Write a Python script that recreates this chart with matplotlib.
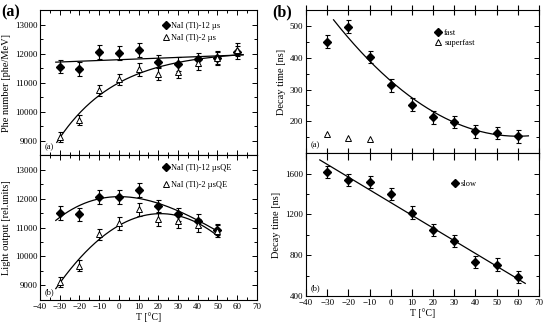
import numpy as np
import matplotlib
matplotlib.use("Agg")
import matplotlib.pyplot as plt
from matplotlib.ticker import MultipleLocator

plt.rcParams['font.family'] = ['Liberation Serif', 'DejaVu Serif']

# temperatures [C]
T = [-30, -20, -10, 0, 10, 20, 30, 40, 50, 60]
T_qe = [-30, -20, -10, 0, 10, 20, 30, 40, 50]

# (a) top: photoelectron number [phe/MeV]
phe_12 = [11550, 11470, 12050, 12015, 12130, 11720, 11640, 11800, 11860, 12040]
phe_12_err = [230, 230, 240, 240, 240, 230, 230, 230, 230, 230]
phe_2 = [9120, 9700, 10740, 11110, 11460, 11310, 11380, 11660, 11840, 12130]
phe_2_err = [170, 180, 190, 200, 220, 220, 220, 220, 220, 220]

# (a) bottom: light output [rel. units]
lo_12 = [11500, 11450, 12060, 12060, 12290, 11730, 11450, 11230, 10930]
lo_12_err = [230, 230, 240, 240, 250, 230, 230, 220, 200]
lo_2 = [9120, 9680, 10760, 11140, 11630, 11290, 11210, 11080, 10870]
lo_2_err = [170, 190, 200, 210, 220, 230, 230, 220, 200]

# (b) top: decay time fast / superfast [ns]
fast = [450, 498, 402, 313, 252, 213, 198, 168, 163, 153]
fast_err = [20, 20, 20, 20, 20, 20, 20, 20, 20, 20]
T_sf = [-30, -20, -10]
superfast = [161, 147, 144]

# (b) bottom: decay time slow [ns]
slow = [1617, 1534, 1517, 1398, 1217, 1045, 936, 730, 708, 585]
slow_err = [60, 60, 60, 60, 60, 60, 60, 60, 60, 60]

# fit of NaI(Tl)-2us phe number: A - B*exp(-(T - T0)/tau)
exp_A, exp_B, exp_T0, exp_tau = 12100, 3010, -30, 30.0
# fit of fast decay time: y0 + a*(T - Tv)^2
fast_y0, fast_a, fast_Tv = 153, 0.0484, 60

fig = plt.figure(figsize=(5.45, 3.25), dpi=100)
ax1 = fig.add_axes([0.0734, 0.523, 0.398, 0.446])
ax2 = fig.add_axes([0.0734, 0.077, 0.398, 0.446])
ax3 = fig.add_axes([0.5615, 0.529, 0.4275, 0.440])
ax4 = fig.add_axes([0.5615, 0.089, 0.4275, 0.440])

filled = dict(marker='D', ms=4.2, mfc='k', mec='k', color='k', linestyle='none')
opn = dict(marker='^', ms=4.6, mfc='white', mec='k', mew=0.7, color='k', linestyle='none')


def points(ax, x, y, err, style, label):
    if err is not None:
        ax.errorbar(x, y, yerr=err, fmt='none', ecolor='k', capsize=1.8,
                    elinewidth=0.8, capthick=0.8, zorder=2)
    ax.plot(x, y, label=label, zorder=3, **style)


def legend(ax, x0, y0, spacing):
    ax.legend(loc='upper left', bbox_to_anchor=(x0, y0), frameon=False, fontsize=6,
              handletextpad=0.2, labelspacing=spacing, handlelength=1.0,
              borderaxespad=0.0, borderpad=0.0)


# ---- top left
points(ax1, T, phe_12, phe_12_err, filled, 'NaI (Tl)-12 µs')
points(ax1, T, phe_2, phe_2_err, opn, 'NaI (Tl)-2 µs')
tt = np.linspace(-32, 63, 200)
p = np.polyfit(T, phe_12, 1)
ax1.plot(tt, np.polyval(p, tt), 'k-', lw=0.9)
tt = np.linspace(-31.5, 63, 200)
ax1.plot(tt, exp_A - exp_B * np.exp(-(tt - exp_T0) / exp_tau), 'k-', lw=0.9)
ax1.set_ylim(8500, 13500)
ax1.set_ylabel('Phe number [phe/MeV]', fontsize=7.5, labelpad=3)
ax1.text(0.02, 0.04, '(a)', transform=ax1.transAxes, fontsize=6)
legend(ax1, 0.56, 0.92, 0.55)

# ---- bottom left
points(ax2, T_qe, lo_12, lo_12_err, filled, 'NaI (Tl)-12 µsQE')
points(ax2, T_qe, lo_2, lo_2_err, opn, 'NaI (Tl)-2 µsQE')
tt = np.linspace(-32, 51, 200)
p = np.polyfit(T_qe, lo_12, 3)
ax2.plot(tt, np.polyval(p, tt), 'k-', lw=0.9)
p = np.polyfit(T_qe, lo_2, 2)
ax2.plot(tt, np.polyval(p, tt), 'k-', lw=0.9)
ax2.set_ylim(8500, 13500)
ax2.set_ylabel('Light output [rel.units]', fontsize=7.5, labelpad=3)
ax2.set_xlabel('T [°C]', fontsize=7, labelpad=1)
ax2.text(0.02, 0.04, '(b)', transform=ax2.transAxes, fontsize=6)
legend(ax2, 0.56, 0.94, 1.1)

for ax in (ax1, ax2):
    ax.set_xlim(-40, 70)
    ax.xaxis.set_major_locator(MultipleLocator(10))
    ax.xaxis.set_minor_locator(MultipleLocator(5))
    ax.yaxis.set_major_locator(MultipleLocator(1000))
    ax.yaxis.set_minor_locator(MultipleLocator(500))
    ax.tick_params(which='both', direction='in', top=True, right=True, labelsize=6.5, pad=2)
    ax.tick_params(which='major', length=3.5, width=0.7)
    ax.tick_params(which='minor', length=2, width=0.7)
ax1.tick_params(labelbottom=False)

# ---- top right
points(ax3, T, fast, fast_err, filled, 'fast')
points(ax3, T_sf, superfast, None, opn, 'superfast')
tt = np.linspace(-27, 65, 200)
ax3.plot(tt, fast_y0 + fast_a * (tt - fast_Tv) ** 2, 'k-', lw=0.9)
ax3.set_ylim(100, 550)
ax3.set_yticks([200, 300, 400, 500])
ax3.yaxis.set_minor_locator(MultipleLocator(50))
ax3.set_ylabel('Decay time [ns]', fontsize=7.5, labelpad=3)
ax3.text(0.02, 0.04, '(a)', transform=ax3.transAxes, fontsize=6)
legend(ax3, 0.55, 0.87, 0.25)

# ---- bottom right
points(ax4, T, slow, slow_err, filled, 'slow')
tt = np.linspace(-33.5, 63.5, 200)
p = np.polyfit(T, slow, 1)
ax4.plot(tt, np.polyval(p, tt), 'k-', lw=0.9)
ax4.set_ylim(400, 1800)
ax4.yaxis.set_major_locator(MultipleLocator(400))
ax4.yaxis.set_minor_locator(MultipleLocator(200))
ax4.set_ylabel('Decay time [ns]', fontsize=7.5, labelpad=3)
ax4.set_xlabel('T [°C]', fontsize=7, labelpad=1)
ax4.text(0.02, 0.04, '(b)', transform=ax4.transAxes, fontsize=6)
legend(ax4, 0.62, 0.81, 0.3)

for ax in (ax3, ax4):
    ax.set_xlim(-40, 70)
    ax.xaxis.set_major_locator(MultipleLocator(10))
    ax.tick_params(which='both', direction='in', top=True, right=True, labelsize=6.5, pad=2)
    ax.tick_params(axis='y', which='major', length=3.5, width=0.7)
    ax.tick_params(axis='y', which='minor', length=2, width=0.7)
    ax.tick_params(axis='x', which='major', length=5, width=0.8)
ax3.tick_params(labelbottom=False)
ax3.tick_params(axis='x', direction='inout', length=7)

for ax in (ax1, ax2, ax3, ax4):
    for s in ax.spines.values():
        s.set_linewidth(0.8)

fig.text(0.002, 0.985, '(a)', fontsize=11.5, fontweight='bold', va='top')
fig.text(0.5, 0.985, '(b)', fontsize=11.5, fontweight='bold', va='top')

fig.savefig('out.png', dpi=100)
